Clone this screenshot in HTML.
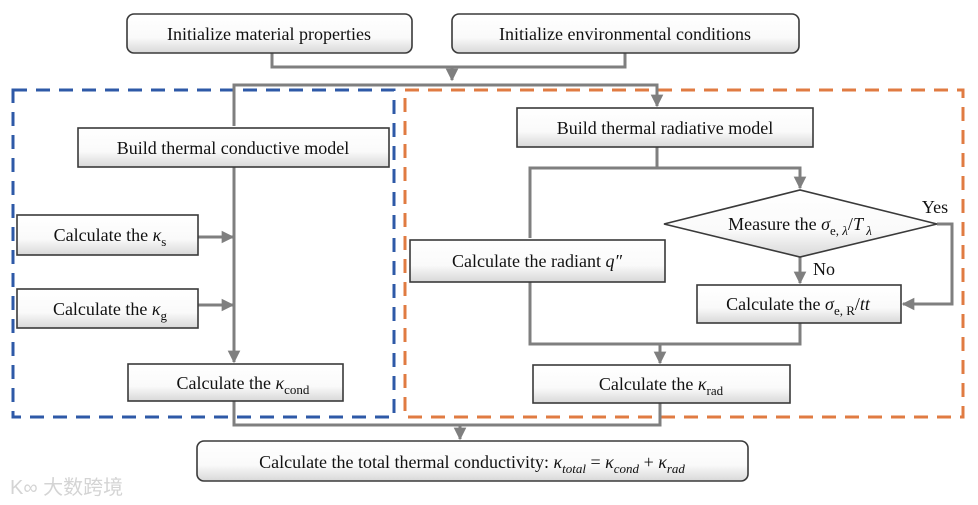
<!DOCTYPE html>
<html><head><meta charset="utf-8"><style>
html,body{margin:0;padding:0;background:#fff;}
svg{display:block;font-family:"Liberation Serif",serif;}
</style></head><body>
<svg width="978" height="505" viewBox="0 0 978 505" xmlns="http://www.w3.org/2000/svg">
<defs>
<linearGradient id="g" x1="0" y1="0" x2="0" y2="1">
<stop offset="0" stop-color="#ffffff"/><stop offset="0.6" stop-color="#fafafa"/><stop offset="1" stop-color="#d8d8d8"/>
</linearGradient>
<marker id="a" viewBox="0 0 10 10" refX="9" refY="5" markerWidth="4.2" markerHeight="4.2" orient="auto"><path d="M0,0 L10,5 L0,10 z" fill="#7f7f7f"/></marker>
</defs>
<rect x="13" y="90" width="381" height="327" fill="none" stroke="#2e59a7" stroke-width="3" stroke-dasharray="14,9"/>
<rect x="405" y="90" width="558" height="327" fill="none" stroke="#e07b42" stroke-width="3" stroke-dasharray="14,9"/>
<g stroke="#7f7f7f" stroke-width="3" fill="none">
<polyline points="272,53 272,67 625,67 625,53"/>
<line x1="452" y1="67" x2="452" y2="80" marker-end="url(#a)"/>
<polyline points="234,126 234,85 657,85 657,106" marker-end="url(#a)"/>
<line x1="234" y1="167" x2="234" y2="362" marker-end="url(#a)"/>
<line x1="198" y1="237" x2="233" y2="237" marker-end="url(#a)"/>
<line x1="198" y1="305" x2="233" y2="305" marker-end="url(#a)"/>
<line x1="657" y1="147" x2="657" y2="168"/>
<polyline points="530,238 530,168 800,168 800,188" marker-end="url(#a)"/>
<line x1="800" y1="257" x2="800" y2="283" marker-end="url(#a)"/>
<polyline points="937,224 952,224 952,304 903,304" marker-end="url(#a)"/>
<polyline points="530,282 530,344 800,344 800,323"/>
<line x1="660" y1="344" x2="660" y2="363" marker-end="url(#a)"/>
<polyline points="234,401 234,425 660,425 660,403"/>
<line x1="460" y1="425" x2="460" y2="439" marker-end="url(#a)"/>
</g>
<g stroke="#3a3a3a" stroke-width="1.6" fill="url(#g)">
<rect x="127" y="14" width="285" height="39" rx="7"/>
<rect x="452" y="14" width="347" height="39" rx="7"/>
<rect x="78" y="128" width="311" height="39"/>
<rect x="517" y="108" width="296" height="39"/>
<rect x="17" y="215" width="181" height="40"/>
<rect x="17" y="289" width="181" height="39"/>
<rect x="128" y="364" width="215" height="37"/>
<rect x="410" y="240" width="255" height="42"/>
<polygon points="664,224 800,190 937,224 800,257"/>
<rect x="697" y="285" width="204" height="38"/>
<rect x="533" y="365" width="257" height="38"/>
<rect x="197" y="441" width="551" height="40" rx="7"/>
</g>
<g font-size="18" fill="#111" text-anchor="middle">
<text x="269" y="40">Initialize material properties</text>
<text x="625" y="40">Initialize environmental conditions</text>
<text x="233" y="154">Build thermal conductive model</text>
<text x="665" y="134">Build thermal radiative model</text>
<text x="110" y="241">Calculate the <tspan font-style="italic">κ</tspan><tspan font-size="13" dy="5">s</tspan></text>
<text x="110" y="315">Calculate the <tspan font-style="italic">κ</tspan><tspan font-size="13" dy="5">g</tspan></text>
<text x="243" y="389">Calculate the <tspan font-style="italic">κ</tspan><tspan font-size="13" dy="5">cond</tspan></text>
<text x="537" y="267">Calculate the radiant <tspan font-style="italic">q″</tspan></text>
<text x="800" y="230">Measure the <tspan font-style="italic">σ</tspan><tspan font-size="13" dy="5">e, <tspan font-style="italic">λ</tspan></tspan><tspan dy="-5">/</tspan><tspan font-style="italic">T</tspan><tspan font-size="13" dy="5" font-style="italic"> λ</tspan></text>
<text x="798" y="310">Calculate the <tspan font-style="italic">σ</tspan><tspan font-size="13" dy="5">e, R</tspan><tspan dy="-5">/</tspan><tspan font-style="italic">tt</tspan></text>
<text x="661" y="390">Calculate the <tspan font-style="italic">κ</tspan><tspan font-size="13" dy="5">rad</tspan></text>
<text x="472" y="468">Calculate the total thermal conductivity: <tspan font-style="italic">κ</tspan><tspan font-size="13" dy="5" font-style="italic">total</tspan><tspan dy="-5"> = </tspan><tspan font-style="italic">κ</tspan><tspan font-size="13" dy="5" font-style="italic">cond</tspan><tspan dy="-5"> + </tspan><tspan font-style="italic">κ</tspan><tspan font-size="13" dy="5" font-style="italic">rad</tspan></text>
<text x="935" y="213">Yes</text>
<text x="824" y="275">No</text>
</g>
<text x="10" y="494" font-family="'Liberation Sans','Noto Sans CJK SC',sans-serif" font-size="20" fill="#d4d4d4">K∞ 大数跨境</text>
</svg>
</body></html>
